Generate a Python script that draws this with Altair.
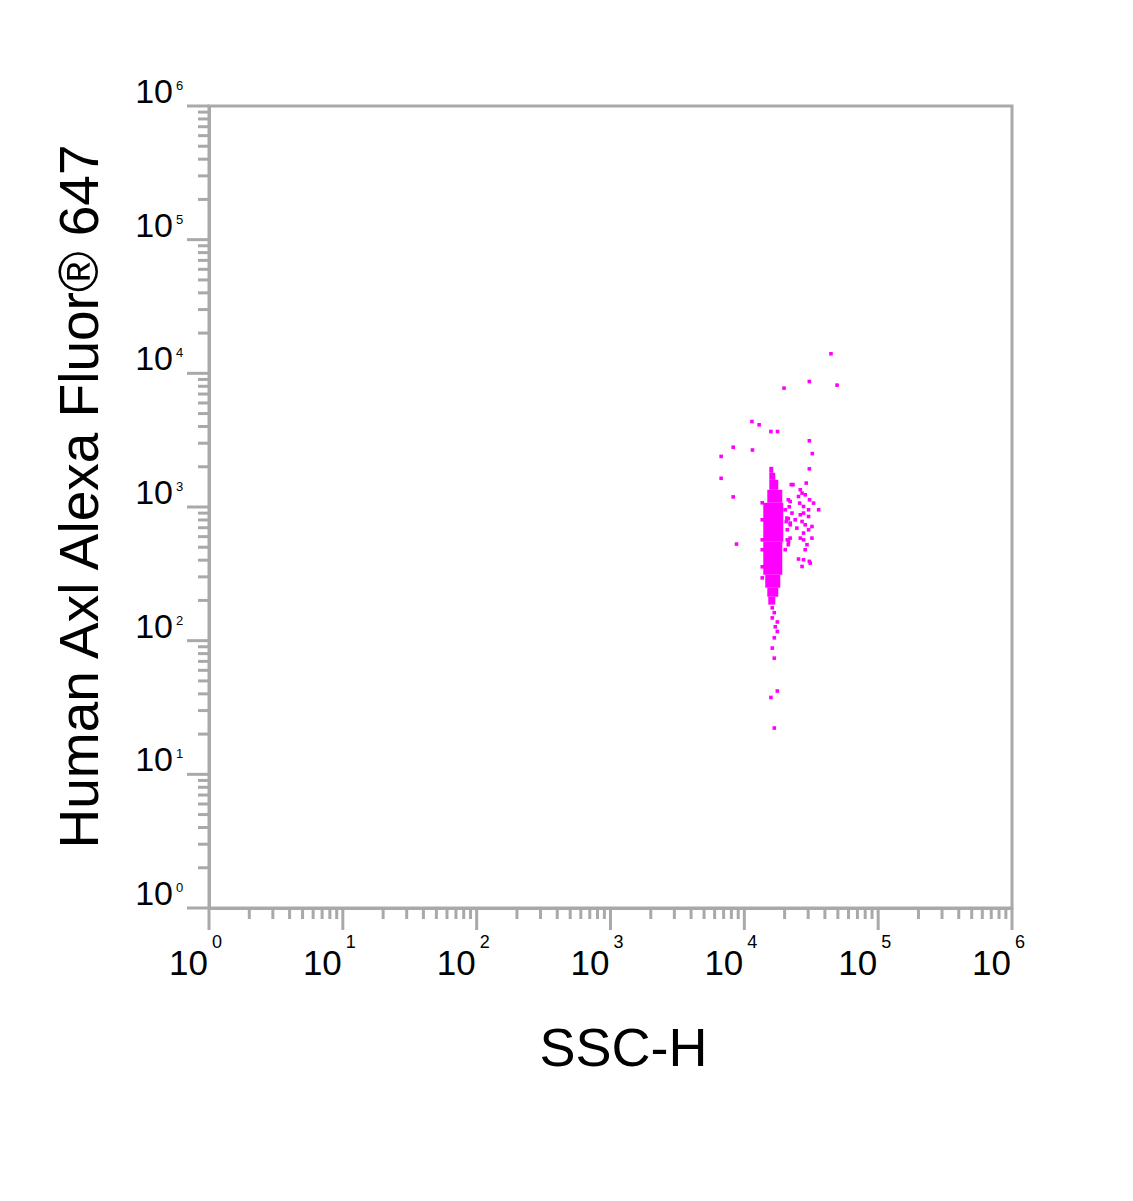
import altair as alt
import pandas as pd

FONT = "Liberation Sans, Arial, Helvetica, sans-serif"
GRAY = "#a9a9a9"
MAGENTA = "#ff00ff"

# ---- individual events (SSC-H, Human Axl Alexa Fluor 647) ----
outlier_ssc = [44400, 30600, 49300, 19800, 11400, 12900, 15800, 17700, 30600,
               8260, 11500, 32200, 6710, 30600, 6710, 8260, 8740]
outlier_axl = [14000, 8690, 8160, 7750, 4360, 4120, 3670, 3670, 3130,
               2800, 2670, 2510, 2390, 1930, 1640, 1190, 528]

satellite_ssc = [23100, 29000, 26200, 27000, 22000, 25400, 28500, 30700, 32900,
                 35900, 25900, 27700, 30200, 22700, 26200, 27700, 30200, 20800,
                 24000, 27000, 22000, 28500, 32000, 24700, 30200, 27700, 26200,
                 32000, 22000, 27700, 21400, 29400, 20200, 28500, 25400, 27700,
                 27000, 31100, 30600]
satellite_axl = [1470, 1510, 1345, 1270, 1100, 1198, 1234, 1132, 1069,
                 953, 1069, 1009, 953, 900, 874, 900, 849, 826,
                 802, 779, 758, 736, 715, 695, 675, 638, 585,
                 585, 585, 568, 552, 522, 479, 479, 408, 403,
                 359, 380, 392]

edge_ssc = [22430, 21300, 21670, 20200, 21300, 20580, 22040, 20940, 20940, 21300,
            13610, 13610, 13610, 13610, 13610, 13610]
edge_axl = [1470, 1132, 1003, 953, 816, 779, 736, 675, 568, 522,
            1075, 802, 568, 479, 357, 295]

tail_ssc = [16170, 16740, 16170, 17640, 17030, 17640, 16740, 16170, 16740, 17640, 15800, 16740]
tail_axl = [176, 162, 148, 138, 127, 117, 105, 88, 74, 42, 37.6, 22.2]

# ---- dense core of the population (strips of saturated events) ----
core_ssc_lo = [15360, 15360, 15360, 14840, 13850, 13850, 14330, 14840, 15100]
core_ssc_hi = [16450, 17030, 17930, 19210, 19540, 19210, 18560, 17930, 17030]
core_axl_lo = [1803, 1598, 1345, 1075, 549, 311, 249, 213, 186]
core_axl_hi = [1998, 1803, 1598, 1345, 1075, 549, 311, 249, 213]

# ---- axis ticks / labels ----
decades = [1, 10, 100, 1000, 10000, 100000, 1000000]
major_ticks = [1.0, 10.0, 100.0, 1000.0, 10000.0, 100000.0, 1000000.0]
exponents = ["0", "1", "2", "3", "4", "5", "6"]
minor_mult = [2, 3, 4, 5, 6, 7, 8, 9]
minor_ticks = [m * d for d in decades[:-1] for m in minor_mult]

W, H = 803, 802

pts = pd.DataFrame({
    "ssc": outlier_ssc + satellite_ssc + edge_ssc + tail_ssc,
    "axl": outlier_axl + satellite_axl + edge_axl + tail_axl,
})
core = pd.DataFrame({"x1": core_ssc_lo, "x2": core_ssc_hi,
                     "y1": core_axl_lo, "y2": core_axl_hi})
labels = pd.DataFrame({"v": decades, "base": ["10"] * len(decades), "exp": exponents})
majors = pd.DataFrame({"m": major_ticks})
minors = pd.DataFrame({"v": minor_ticks})

sx = alt.Scale(type="log", domain=[1, 1000000], nice=False)
sy = alt.Scale(type="log", domain=[1, 1000000], nice=False)

x_axis = alt.Axis(values=decades, ticks=False, domainColor=GRAY, domainWidth=3,
                  labels=False, grid=False,
                  title="SSC-H", titleFont=FONT, titleFontSize=54,
                  titleFontWeight="normal", titleColor="#000000",
                  titleX=414, titleY=157, titleAlign="center",
                  titleBaseline="alphabetic")
y_axis = alt.Axis(values=decades, ticks=False, domainColor=GRAY, domainWidth=3,
                  labels=False, grid=False,
                  title="Human Axl Alexa Fluor® 647", titleFont=FONT,
                  titleFontSize=55, titleFontWeight="normal", titleColor="#000000",
                  titleAngle=270, titleX=-112, titleY=390, titleAlign="center",
                  titleBaseline="alphabetic")

points = alt.Chart(pts).mark_square(size=13, color=MAGENTA, opacity=1).encode(
    x=alt.X("ssc:Q", scale=sx, axis=x_axis),
    y=alt.Y("axl:Q", scale=sy, axis=y_axis),
)

core_layer = alt.Chart(core).mark_rect(color=MAGENTA).encode(
    x=alt.X("x1:Q", scale=sx, axis=x_axis), x2="x2:Q",
    y=alt.Y("y1:Q", scale=sy, axis=y_axis), y2="y2:Q",
)

# tick marks: long at decades, short at 2..9
x_major = alt.Chart(majors).mark_rule(color=GRAY, strokeWidth=3).encode(
    x=alt.X("m:Q", scale=sx, axis=x_axis), y=alt.value(H), y2=alt.value(H + 22))
y_major = alt.Chart(majors).mark_rule(color=GRAY, strokeWidth=3).encode(
    y=alt.Y("m:Q", scale=sy, axis=y_axis), x=alt.value(0), x2=alt.value(-22))
x_minor = alt.Chart(minors).mark_rule(color=GRAY, strokeWidth=3).encode(
    x=alt.X("v:Q", scale=sx, axis=x_axis), y=alt.value(H), y2=alt.value(H + 11))
y_minor = alt.Chart(minors).mark_rule(color=GRAY, strokeWidth=3).encode(
    y=alt.Y("v:Q", scale=sy, axis=y_axis), x=alt.value(0), x2=alt.value(-11))

x_lab = alt.Chart(labels).mark_text(align="right", baseline="alphabetic", font=FONT,
                                    fontSize=35, color="#000000", dx=-1).encode(
    x=alt.X("v:Q", scale=sx, axis=x_axis), y=alt.value(H + 67), text="base:N")
x_exp = alt.Chart(labels).mark_text(align="left", baseline="alphabetic", font=FONT,
                                    fontSize=18, color="#000000", dx=3).encode(
    x=alt.X("v:Q", scale=sx, axis=x_axis), y=alt.value(H + 40), text="exp:N")
y_lab = alt.Chart(labels).mark_text(align="right", baseline="alphabetic", font=FONT,
                                    fontSize=34, color="#000000", dy=-3).encode(
    y=alt.Y("v:Q", scale=sy, axis=y_axis), x=alt.value(-36), text="base:N")
y_exp = alt.Chart(labels).mark_text(align="left", baseline="alphabetic", font=FONT,
                                    fontSize=13, color="#000000", dy=-16).encode(
    y=alt.Y("v:Q", scale=sy, axis=y_axis), x=alt.value(-33), text="exp:N")

chart = alt.layer(points, core_layer, x_minor, y_minor, x_major, y_major,
                  x_lab, x_exp, y_lab, y_exp).properties(
    width=W, height=H,
    autosize=alt.AutoSizeParams(type="none"),
    padding={"left": 201, "top": 98, "right": 110, "bottom": 280},
    background="white",
).configure_view(stroke=GRAY, strokeWidth=3)

chart.save("out.html", embed_options={"renderer": "svg", "actions": False})
